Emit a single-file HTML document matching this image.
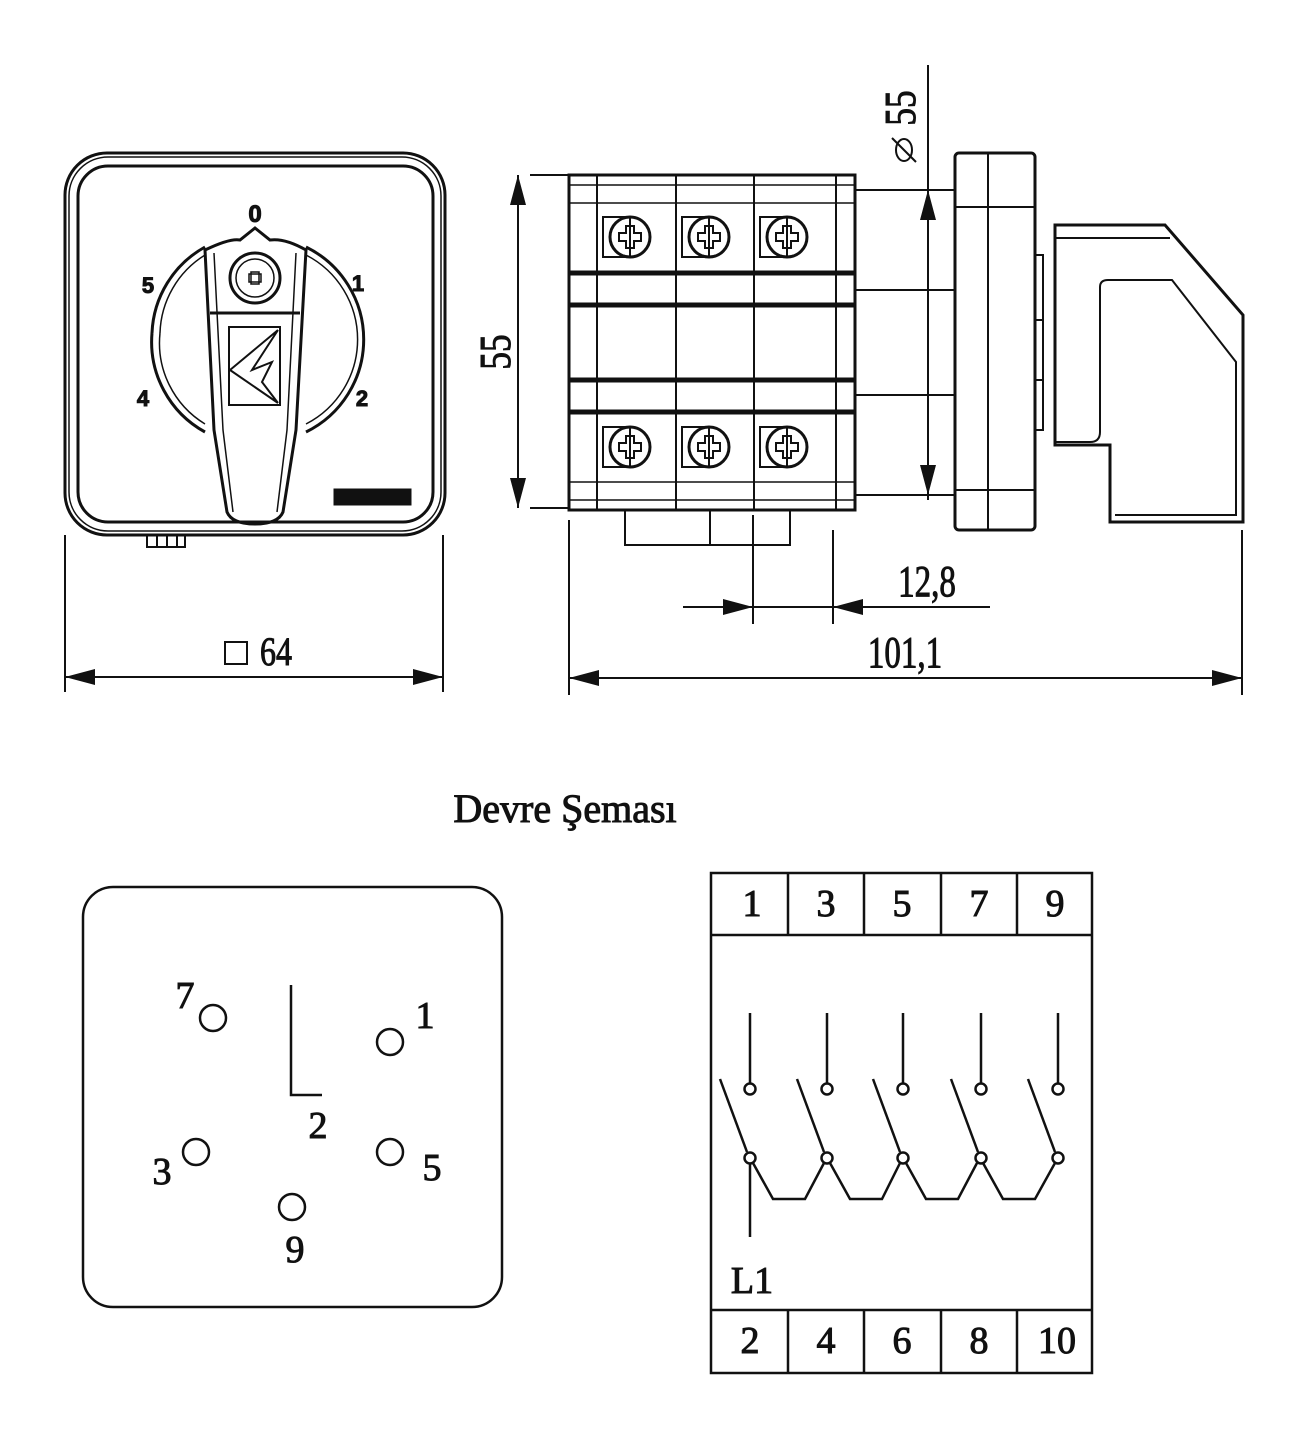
<!DOCTYPE html>
<html><head><meta charset="utf-8"><style>
html,body{margin:0;padding:0;background:#fff}
svg{display:block}
text{font-family:"Liberation Serif","Times New Roman",serif;fill:#111}
.s{font-family:"Liberation Sans",sans-serif;font-weight:bold}
</style></head><body>
<svg width="1308" height="1439" viewBox="0 0 1308 1439" xmlns="http://www.w3.org/2000/svg" fill="none" stroke="#111">
<defs>
<marker id="a" viewBox="0 0 30 16" refX="30" refY="8" markerWidth="30" markerHeight="16" markerUnits="userSpaceOnUse" orient="auto"><path d="M0,0L30,8L0,16z" fill="#111" stroke="none"/></marker>
</defs>
<!-- FRONT VIEW -->
<g stroke-width="3">
<rect x="65" y="153" width="380" height="382" rx="42"/>
<rect x="69" y="157" width="372" height="374" rx="39" stroke-width="1.5"/>
<rect x="78" y="166" width="355" height="356" rx="30"/>
<path d="M152,333 A103,103 0 0 1 205,247 M306,247 A103,103 0 0 1 306,432 M205,432 A103,103 0 0 1 152,333"/>
<path d="M160,333 A95,95 0 0 1 205,255 M306,255 A95,95 0 0 1 306,424 M205,424 A95,95 0 0 1 160,333" stroke-width="1.5"/>
<path d="M205,250 Q230,238 240,240 L255,228 L270,240 Q285,238 306,250 L296,430 L283,512 Q278,524 255,524 Q232,524 227,512 L214,430 Z"/>
<path d="M214,253 L223,430 L233,512 M296,253 L287,430 L277,512" stroke-width="1.5"/>
<circle cx="255" cy="278" r="25"/>
<circle cx="255" cy="278" r="19" stroke-width="1.5"/>
<path d="M249,274h12v8h-12zM251,272h8v12h-8z" stroke-width="1.5"/>
<line x1="210" y1="313" x2="300" y2="313"/>
<rect x="229" y="327" width="51" height="78" stroke-width="2"/>
<path d="M278,330 L230,370 L278,403 M278,330 L252,370 L272,362 L262,382 L278,403" stroke-width="2"/>
<rect x="335" y="490" width="75" height="14" fill="#111"/>
<path d="M147,535v12h38v-12 M157,535v12M167,535v12M177,535v12" stroke-width="2"/>
</g>
<text class="s" x="255" y="222" font-size="24" text-anchor="middle">0</text>
<text class="s" x="148" y="293" font-size="22" text-anchor="middle">5</text>
<text class="s" x="358" y="291" font-size="22" text-anchor="middle">1</text>
<text class="s" x="143" y="406" font-size="22" text-anchor="middle">4</text>
<text class="s" x="362" y="406" font-size="22" text-anchor="middle">2</text>
<!-- SIDE VIEW -->
<g stroke-width="3">
<rect x="569" y="175" width="286" height="335"/>
<line x1="569" y1="185" x2="855" y2="185" stroke-width="1.5"/>
<line x1="569" y1="500" x2="855" y2="500" stroke-width="1.5"/>
<line x1="597" y1="175" x2="597" y2="510" stroke-width="2"/>
<line x1="676" y1="175" x2="676" y2="510" stroke-width="2"/>
<line x1="754" y1="175" x2="754" y2="510" stroke-width="2"/>
<line x1="836" y1="175" x2="836" y2="510" stroke-width="2"/>
<line x1="569" y1="203" x2="855" y2="203" stroke-width="1.5"/>
<line x1="569" y1="273" x2="855" y2="273" stroke-width="5"/>
<line x1="569" y1="305" x2="855" y2="305" stroke-width="5"/>
<line x1="569" y1="380" x2="855" y2="380" stroke-width="5"/>
<line x1="569" y1="412" x2="855" y2="412" stroke-width="5"/>
<line x1="569" y1="482" x2="855" y2="482" stroke-width="1.5"/>
<g id="sc"><rect x="603" y="217" width="27" height="40" stroke-width="2"/><circle cx="630" cy="237" r="20"/><path d="M626,226h8v7h7v8h-7v7h-8v-7h-7v-8h7z" stroke-width="2"/></g>
<use href="#sc" x="79"/><use href="#sc" x="157"/>
<use href="#sc" y="210"/><use href="#sc" x="79" y="210"/><use href="#sc" x="157" y="210"/>
<path d="M625,510v35h165v-35M710,510v35" stroke-width="2"/>
<path d="M855,190h100M855,290h100M855,395h100M855,495h100" stroke-width="2"/>
<rect x="955" y="153" width="80" height="377" rx="4"/>
<line x1="988" y1="153" x2="988" y2="530" stroke-width="2"/>
<line x1="955" y1="207" x2="1035" y2="207" stroke-width="2"/>
<line x1="955" y1="490" x2="1035" y2="490" stroke-width="2"/>
<path d="M1035,255h8v175h-8M1035,320h8M1035,380h8" stroke-width="2"/>
<path d="M1055,225 L1165,225 L1243,315 L1243,522 L1110,522 L1110,445 L1055,445 Z"/>
<path d="M1055,238 L1170,238 M1100,287 L1100,432 Q1100,442 1090,442 L1055,442 M1100,287 Q1100,280 1108,280 L1172,280 L1236,362 L1236,515 L1115,515" stroke-width="2"/>
</g>
<!-- dimensions -->
<g stroke-width="2">
<line x1="928" y1="65" x2="928" y2="500"/>
<line x1="928" y1="300" x2="928" y2="190" marker-end="url(#a)"/>
<line x1="928" y1="300" x2="928" y2="495" marker-end="url(#a)"/>
<line x1="530" y1="175" x2="569" y2="175"/>
<line x1="530" y1="508" x2="569" y2="508"/>
<line x1="518" y1="340" x2="518" y2="175" marker-end="url(#a)"/>
<line x1="518" y1="340" x2="518" y2="508" marker-end="url(#a)"/>
<line x1="65" y1="535" x2="65" y2="692"/>
<line x1="443" y1="535" x2="443" y2="692"/>
<line x1="255" y1="677" x2="65" y2="677" marker-end="url(#a)"/>
<line x1="255" y1="677" x2="443" y2="677" marker-end="url(#a)"/>
<line x1="569" y1="520" x2="569" y2="695"/>
<line x1="1242" y1="530" x2="1242" y2="695"/>
<line x1="905" y1="678" x2="569" y2="678" marker-end="url(#a)"/>
<line x1="905" y1="678" x2="1242" y2="678" marker-end="url(#a)"/>
<line x1="753" y1="515" x2="753" y2="624"/>
<line x1="833" y1="530" x2="833" y2="624"/>
<line x1="683" y1="607" x2="753" y2="607" marker-end="url(#a)"/>
<line x1="753" y1="607" x2="833" y2="607"/>
<line x1="990" y1="607" x2="833" y2="607" marker-end="url(#a)"/>
</g>
<text transform="translate(510,352) rotate(-90) scale(0.8,1)" font-size="44" text-anchor="middle">55</text>
<text transform="translate(915,108) rotate(-90) scale(0.8,1)" font-size="44" text-anchor="middle">55</text>
<g transform="translate(904,150) rotate(-90)"><ellipse cx="0" cy="0" rx="11" ry="8" stroke-width="2"/><line x1="-12" y1="12" x2="12" y2="-12" stroke-width="2"/></g>
<text transform="translate(276,665) scale(0.8,1)" font-size="40" text-anchor="middle">64</text>
<rect x="225" y="642" width="22" height="22" stroke-width="2"/>
<text transform="translate(905,667) scale(0.75,1)" font-size="44" text-anchor="middle">101,1</text>
<text transform="translate(927,596) scale(0.75,1)" font-size="44" text-anchor="middle">12,8</text>
<text x="565" y="822" font-size="40" text-anchor="middle">Devre Şeması</text>
<!-- bottom left -->
<g stroke-width="2.5">
<rect x="83" y="887" width="419" height="420" rx="30"/>
<circle cx="213" cy="1018" r="13"/><circle cx="390" cy="1042" r="13"/>
<circle cx="196" cy="1152" r="13"/><circle cx="390" cy="1152" r="13"/>
<circle cx="292" cy="1207" r="13"/>
<path d="M291,985V1095H322"/>
</g>
<g font-size="38" text-anchor="middle">
<text x="185" y="1008">7</text><text x="425" y="1028">1</text>
<text x="162" y="1184">3</text><text x="432" y="1180">5</text>
<text x="295" y="1262">9</text><text x="318" y="1138">2</text>
</g>
<!-- bottom right -->
<g stroke-width="2.5">
<rect x="711" y="873" width="381" height="500"/>
<line x1="711" y1="935" x2="1092" y2="935"/>
<line x1="711" y1="1310" x2="1092" y2="1310"/>
<path d="M788,873v62M864,873v62M941,873v62M1017,873v62M788,1310v63M864,1310v63M941,1310v63M1017,1310v63"/>
<g id="c"><line x1="750" y1="1013" x2="750" y2="1083"/><circle cx="750" cy="1089" r="5.5"/><circle cx="750" cy="1158" r="5.5"/><line x1="747" y1="1152" x2="720" y2="1079"/></g>
<use href="#c" x="77"/><use href="#c" x="153"/><use href="#c" x="231"/><use href="#c" x="308"/>
<path d="M753,1163L773,1199H805L824,1163M830,1163L850,1199H882L900,1163M906,1163L926,1199H958L977,1163M983,1163L1003,1199H1035L1055,1163"/>
<line x1="750" y1="1164" x2="750" y2="1237"/>
</g>
<g font-size="38" text-anchor="middle">
<text x="752" y="916">1</text><text x="826" y="916">3</text><text x="902" y="916">5</text><text x="979" y="916">7</text><text x="1055" y="916">9</text>
<text x="750" y="1353">2</text><text x="826" y="1353">4</text><text x="902" y="1353">6</text><text x="979" y="1353">8</text><text x="1057" y="1353">10</text>
<text x="752" y="1293">L1</text>
</g>
</svg>
</body></html>
